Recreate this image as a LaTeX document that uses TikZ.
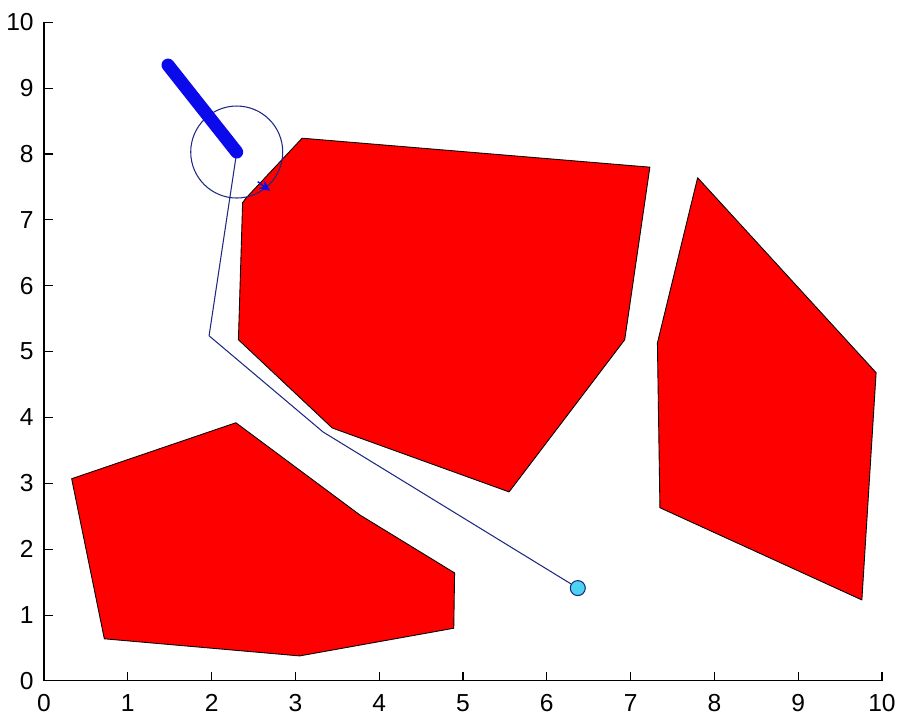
\documentclass[tikz,border=0pt]{standalone}
\usepackage{fontspec}
\setmainfont{Liberation Sans}
\usetikzlibrary{arrows.meta}
\definecolor{ObsRed}{HTML}{FF0000}
\definecolor{RobBlue}{HTML}{0A0AEB}
\definecolor{PathBlue}{HTML}{1E2A80}
\definecolor{GoalCyan}{HTML}{4DD2F2}

\begin{document}
\begin{tikzpicture}[x=1.676cm,y=1.3174cm,font=\fontsize{14pt}{16pt}\selectfont,
  obstacle/.style={fill=ObsRed,draw=black,line width=0.5pt,line join=round}]
  \useasboundingbox (-0.525,-0.6224) rectangle (10.227,10.338);
  % obstacles
  \filldraw[obstacle] (0.33,3.07) -- (2.29,3.92) -- (3.77,2.52) -- (4.90,1.64)
    -- (4.89,0.80) -- (3.05,0.38) -- (0.72,0.64) -- cycle;
  \filldraw[obstacle] (3.08,8.24) -- (7.23,7.80) -- (6.93,5.18) -- (5.55,2.87)
    -- (3.44,3.84) -- (2.32,5.18) -- (2.37,7.26) -- (2.41,7.33) -- cycle;
  \filldraw[obstacle] (7.80,7.64) -- (9.93,4.68) -- (9.76,1.23) -- (7.35,2.63)
    -- (7.32,5.13) -- cycle;
  % axes
  \draw[line width=0.6pt] (0,10) -- (0,0) -- (10,0);
  \foreach \i in {0,...,10}{
    \draw[line width=0.6pt] (\i,0) -- ++(0,0.18cm);
    \draw[line width=0.6pt] (0,\i) -- ++(0.18cm,0);
    \node[anchor=north,inner sep=0pt,yshift=-0.26cm] (xt\i) at (\i,0) {\i};
    \node[anchor=east,inner sep=0pt,xshift=-0.2cm] (yt\i) at (0,\i) {\i};
  }
  % robot arm and path
  \coordinate (linkA) at (1.48,9.35);
  \coordinate (linkB) at (2.30,8.03);
  \coordinate (wp1) at (1.97,5.24);
  \coordinate (wp2) at (3.33,3.78);
  \node[circle,draw=PathBlue,fill=GoalCyan,line width=0.6pt,minimum size=0.3cm,inner sep=0pt] (goal) at (6.37,1.41) {};
  \draw[PathBlue,line width=0.6pt] (linkB) -- (wp1) -- (wp2) -- (goal);
  \draw[PathBlue,line width=0.6pt] (linkB) circle (0.92cm);
  \draw[RobBlue,line width=7.4pt,line cap=round] (linkA) -- (linkB);
  \coordinate (tipA) at (2.55,7.58);
  \coordinate (tipB) at (2.70,7.44);
  \draw[RobBlue,line width=0.8pt,-{Stealth[length=2.2mm,width=2mm]}] (tipA) -- (tipB);
\end{tikzpicture}
\end{document}
